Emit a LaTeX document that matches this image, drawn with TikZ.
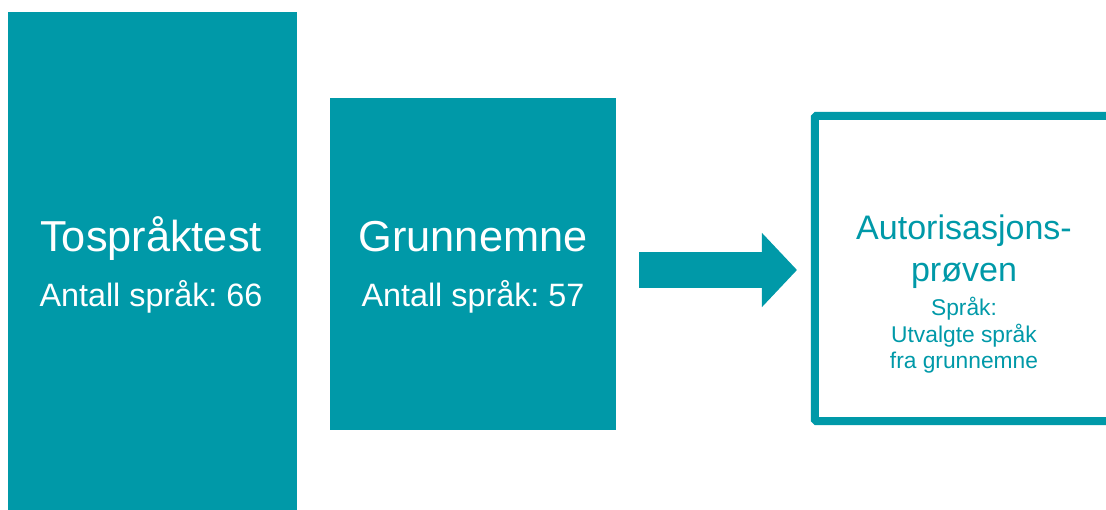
\documentclass[tikz,border=0pt]{standalone}
\usepackage{fontspec}
\setmainfont{Liberation Sans}
\usepackage{tikz}
\usetikzlibrary{arrows.meta}
\definecolor{tealbox}{RGB}{0,153,168}
\frenchspacing

\tikzset{
  fillbox/.style={fill=tealbox,draw=none,inner sep=0pt},
  framebox/.style={draw=tealbox,line width=0.2cm,rounded corners=1pt,inner sep=0pt},
  bigtitle/.style={text=white,anchor=base,font=\fontsize{30.8}{36}\selectfont},
  subtitle/.style={text=white,anchor=base,font=\fontsize{23}{27}\selectfont},
  autotitle/.style={text=tealbox,anchor=base,font=\fontsize{24.2}{29}\selectfont},
  autosub/.style={text=tealbox,anchor=base,font=\fontsize{16.2}{19}\selectfont},
  bigarrow/.style={draw=tealbox,line width=0.9cm,-{Triangle[length=0.875cm,width=1.8cm]}}
}

\begin{document}
\begin{tikzpicture}[x=0.025cm,y=-0.025cm]
            \useasboundingbox (0,0) rectangle (1106,510);
            \clip (0,0) rectangle (1106,510);
            % boxes
            \node[fillbox,minimum width=7.225cm,minimum height=12.7cm] (tosp) at (152.5,266) {};
            \node[fillbox,minimum width=7.15cm,minimum height=8.3cm] (grunn) at (473,264) {};
            \node[framebox,minimum width=7.45cm,minimum height=7.625cm] (auto) at (964,268.5) {};
            % texts
            \node[bigtitle] (tosptitle) at (151,252) {Tospråktest};
            \node[subtitle] (tospsub) at (151,307) {Antall språk: 66};
            \node[bigtitle] (grunntitle) at (473,252) {Grunnemne};
            \node[subtitle] (grunnsub) at (473,307) {Antall språk: 57};
            \node[autotitle] (autoa) at (964,240) {Autorisasjons-};
            \node[autotitle] (autob) at (964,282) {prøven};
            \node[autosub] (autoc) at (964,316) {Språk:};
            \node[autosub] (autod) at (964,343) {Utvalgte språk};
            \node[autosub] (autoe) at (964,369) {fra grunnemne};
            % arrow
            \coordinate (arrowstart) at (639,270);
            \coordinate (arrowend) at (797,270);
            \draw[bigarrow] (arrowstart) -- (arrowend);
        \end{tikzpicture}
\end{document}
